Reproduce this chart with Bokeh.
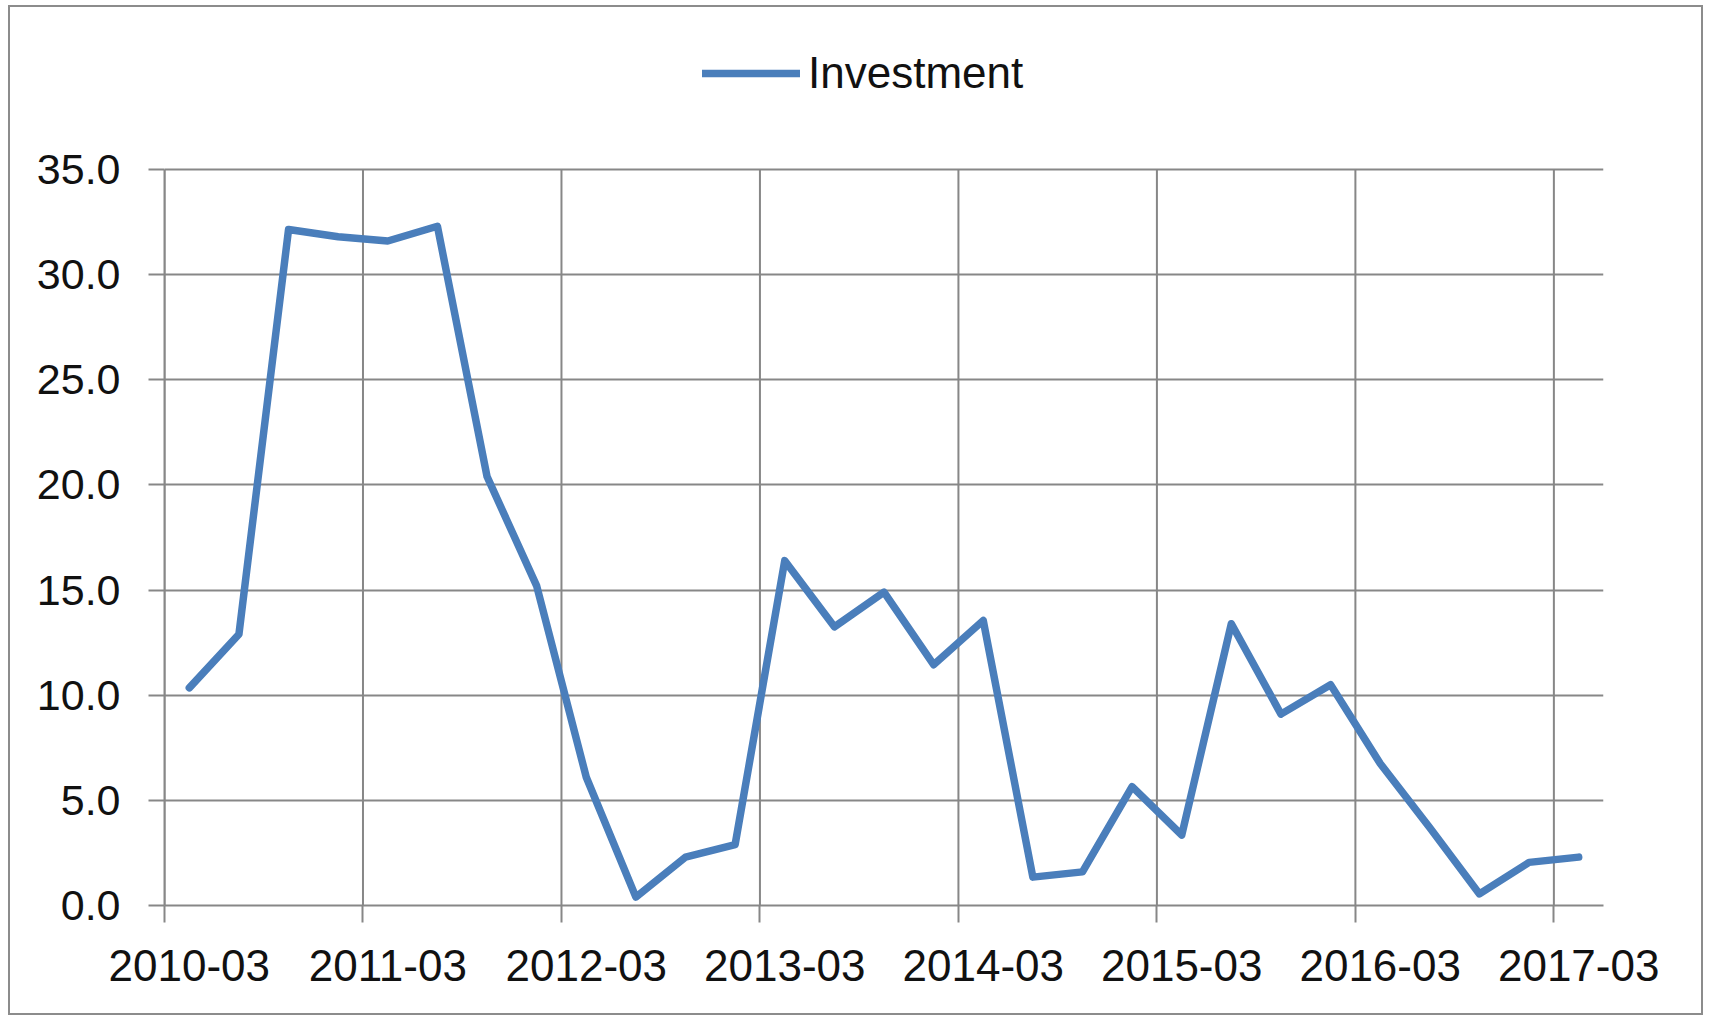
from bokeh.plotting import figure
from bokeh.models import FixedTicker, NumeralTickFormatter, Legend, LegendItem, ColumnDataSource, Range1d
from bokeh.embed import file_html
from bokeh.resources import INLINE

quarters = [
    "2010-03", "2010-06", "2010-09", "2010-12",
    "2011-03", "2011-06", "2011-09", "2011-12",
    "2012-03", "2012-06", "2012-09", "2012-12",
    "2013-03", "2013-06", "2013-09", "2013-12",
    "2014-03", "2014-06", "2014-09", "2014-12",
    "2015-03", "2015-06", "2015-09", "2015-12",
    "2016-03", "2016-06", "2016-09", "2016-12",
    "2017-03",
]
investment = [
    10.35, 12.9, 32.15, 31.8,
    31.6, 32.3, 20.4, 15.2,
    6.1, 0.4, 2.3, 2.9,
    16.4, 13.25, 14.9, 11.45,
    13.55, 1.35, 1.6, 5.65,
    3.35, 13.4, 9.1, 10.5,
    6.75, 3.7, 0.55, 2.05,
    2.3,
]
tick_labels = ["2010-03", "2011-03", "2012-03", "2013-03", "2014-03",
               "2015-03", "2016-03", "2017-03"]
y_ticks = [0, 5, 10, 15, 20, 25, 30, 35]
y_max = 35

GRID = "#878787"
FONT = "Liberation Sans"

n = len(quarters)
xs = [i + 0.5 for i in range(n)]
src = ColumnDataSource(dict(x=xs, y=investment, q=quarters))

label_pos = [quarters.index(t) + 0.5 for t in tick_labels]
boundaries = [quarters.index(t) for t in tick_labels]

# frame extends above the value area to host the legend
FRAME_TOP, AXIS_TOP, AXIS_BOTTOM = 40, 162, 898
y_end = y_max * (AXIS_BOTTOM - FRAME_TOP) / (AXIS_BOTTOM - AXIS_TOP)

p = figure(width=1695, height=1010, output_backend="svg", toolbar_location=None,
           x_range=Range1d(0, n), y_range=Range1d(0, y_end),
           min_border_left=154, min_border_right=102,
           min_border_top=FRAME_TOP, min_border_bottom=1010 - AXIS_BOTTOM)
p.outline_line_color = None
p.background_fill_color = "white"
p.border_fill_color = "white"
p.styles = {"border": "2px solid #8c8c8c"}
p.margin = (5, 0, 0, 8)

# vertical gridlines at every fourth category boundary, limited to the value area
p.segment(x0=boundaries, y0=[0] * len(boundaries), x1=boundaries,
          y1=[y_max] * len(boundaries), line_color=GRID, line_width=2)

r = p.line("x", "y", source=src, line_color="#4a7ebb", line_width=7.5,
           line_join="round", line_cap="round")

xa = p.xaxis[0]
xa.ticker = FixedTicker(ticks=label_pos, minor_ticks=boundaries)
xa.major_label_overrides = {pos: lbl for pos, lbl in zip(label_pos, tick_labels)}
xa.major_tick_out = 0
xa.major_tick_in = 0
xa.minor_tick_out = 17
xa.minor_tick_in = 0
xa.minor_tick_line_color = GRID
xa.minor_tick_line_width = 2
xa.axis_line_color = GRID
xa.axis_line_width = 2
xa.major_label_text_font = FONT
xa.major_label_text_font_size = "44px"
xa.major_label_text_color = "#111111"
xa.major_label_standoff = 27

ya = p.yaxis[0]
ya.ticker = FixedTicker(ticks=y_ticks)
ya.bounds = (0, y_max)
ya.formatter = NumeralTickFormatter(format="0.0")
ya.major_tick_out = 16
ya.major_tick_in = 0
ya.major_tick_line_color = GRID
ya.major_tick_line_width = 2
ya.minor_tick_line_color = None
ya.axis_line_color = GRID
ya.axis_line_width = 2
ya.major_label_text_font = FONT
ya.major_label_text_font_size = "43px"
ya.major_label_text_color = "#111111"
ya.major_label_standoff = 28

p.xgrid.visible = False
p.ygrid.ticker = FixedTicker(ticks=y_ticks)
p.ygrid.grid_line_color = GRID
p.ygrid.grid_line_width = 2

legend = Legend(items=[LegendItem(label="Investment", renderers=[r])],
                location=(538, 807), orientation="horizontal",
                glyph_width=98, glyph_height=44, label_height=44,
                label_standoff=8, padding=0, margin=0, spacing=0,
                border_line_color=None, background_fill_alpha=0,
                label_text_font=FONT, label_text_font_size="44px",
                label_text_color="#111111")
p.add_layout(legend)

open("out.html", "w").write(file_html(p, INLINE))
